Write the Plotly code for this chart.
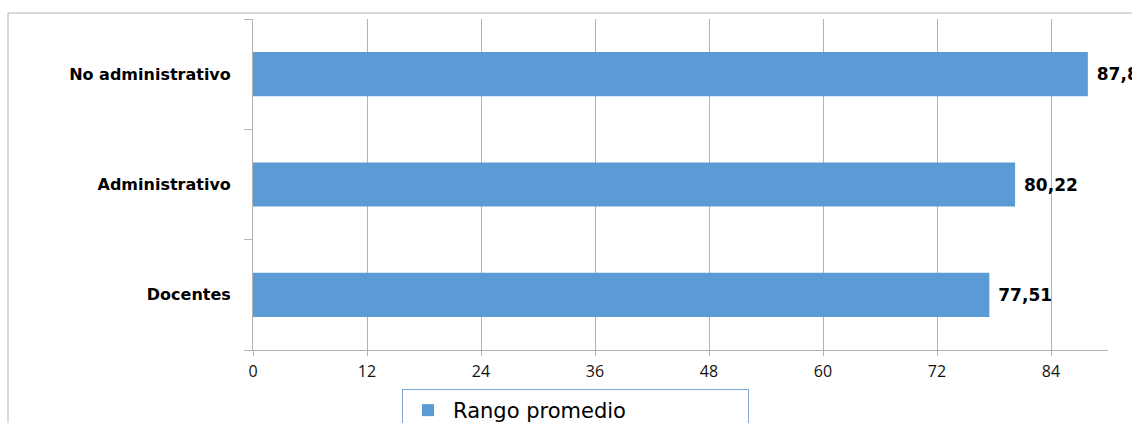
import plotly.graph_objects as go

categories = ["Docentes", "Administrativo", "No administrativo"]
values = [77.51, 80.22, 87.88]
labels = ["77,51", "80,22", "87,88"]
series_name = "Rango promedio"
x_ticks = [0, 12, 24, 36, 48, 60, 72, 84]

W, H = 1132, 423
ml, mr, mt, mb = 253, 24, 19, 73
pw, ph = W - ml - mr, H - mt - mb

fig = go.Figure()
fig.add_trace(go.Bar(
    y=categories, x=values, orientation="h", name=series_name,
    marker=dict(color="#5b9bd5", line=dict(width=0)),
    text=[" " + t for t in labels], textposition="outside", cliponaxis=False,
    textfont=dict(family="DejaVu Sans", size=17, color="#000000", weight="bold"),
    showlegend=True,
))

grey = "#b3b3b3"
fig.update_layout(
    width=W, height=H,
    margin=dict(l=ml, r=mr, t=mt, b=mb, autoexpand=False),
    plot_bgcolor="white", paper_bgcolor="white",
    bargap=0.6,
    xaxis=dict(range=[0, 90], tickvals=x_ticks, showgrid=True, gridcolor=grey, gridwidth=1,
               showline=True, linecolor=grey, linewidth=1, ticks="outside", ticklen=5,
               tickcolor=grey, zeroline=False, ticklabelstandoff=2,
               tickfont=dict(family="Open Sans", size=16, color="#111111")),
    yaxis=dict(showline=True, linecolor=grey, linewidth=1, ticks="outside", ticklen=8,
               tickcolor=grey, tickson="boundaries", ticklabelstandoff=18,
               tickfont=dict(family="DejaVu Sans", size=16, color="#000000", weight="bold")),
    legend=dict(orientation="h", x=(402 - ml) / pw, xanchor="left", y=-(389 - (H - mb)) / ph,
                yanchor="top", bordercolor="#7fa7d9", borderwidth=1, bgcolor="white",
                font=dict(family="DejaVu Sans", size=21, color="#000000"),
                entrywidth=290, itemsizing="constant", itemwidth=40),
    showlegend=True,
)

# outer chart-area border (left and top edges visible)
x0 = (8 - ml) / pw
y0 = 1 + (mt - 13) / ph
fig.add_shape(type="path", xref="paper", yref="paper",
              path=f"M {x0} {-(mb + 5) / ph} L {x0} {y0} L {(W + 5 - ml) / pw} {y0}",
              line=dict(color=grey, width=1))

fig.write_html("out.html")
